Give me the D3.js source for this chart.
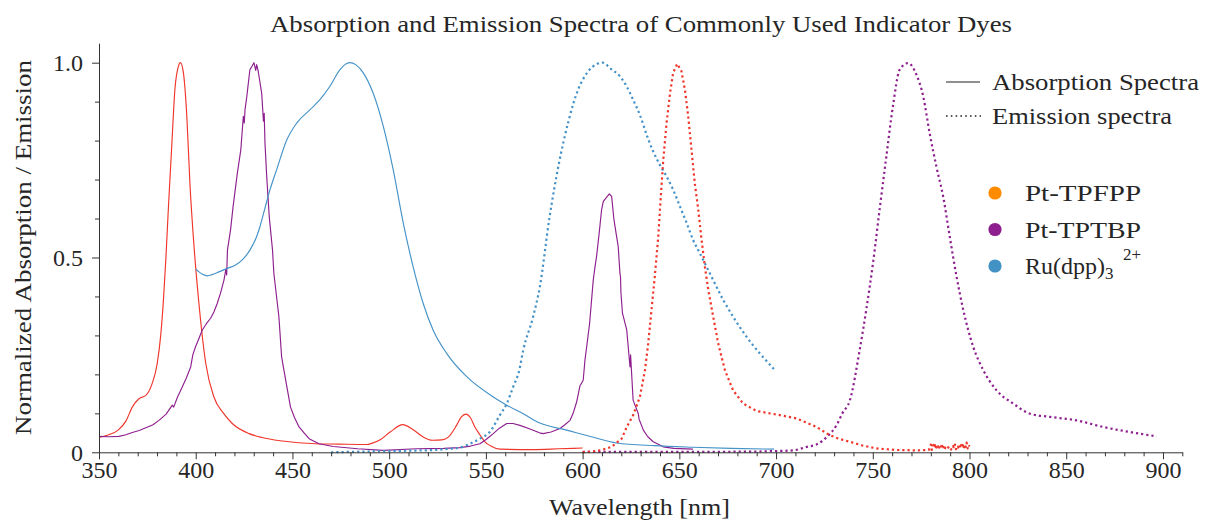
<!DOCTYPE html>
<html><head><meta charset="utf-8">
<script src="https://cdn.jsdelivr.net/npm/d3@7/dist/d3.min.js"></script>
<style>
body{margin:0;background:#fff}
svg{display:block}
text{font-family:"Liberation Serif",serif;fill:#262626}
</style>
</head><body>
<svg id="c" width="1205" height="523"></svg>
<script>
// ---------- DATA ----------
const titleText = "Absorption and Emission Spectra of Commonly Used Indicator Dyes";
const xLabelText = "Wavelength [nm]";
const yLabelText = "Normalized Absorption / Emission";
const xMajorTicks = [350,400,450,500,550,600,650,700,750,800,850,900];
const yMajorTicks = [0,0.5,1.0];
const yTickLabels = ["0","0.5","1.0"];
const dyeNames = ["Pt-TPFPP","Pt-TPTBP","Ru(dpp)"];
const dyeColors = ["#ff8c00","#8e1f8f","#4292c6"];
const styleNames = ["Absorption Spectra","Emission spectra"];

// Pt-TPFPP absorption [nm, value]
const ptfAbs = [[350,0.038],[355,0.045],[359.9,0.057],[363.9,0.08],[367.2,0.116],[370.8,0.138],[374.2,0.146],[377.5,0.177],[380.1,0.228],[381.9,0.30],[383.3,0.39],[384.6,0.50],[386,0.64],[387.5,0.776],[389.3,0.935],[391,0.99],[392.1,1.0],[393.6,0.975],[395.4,0.862],[397,0.69],[399.1,0.53],[401.7,0.38],[405.2,0.228],[409.4,0.142],[414.4,0.1],[418.9,0.074],[427.6,0.048],[434.2,0.038],[444.8,0.029],[461.9,0.022],[473.8,0.021],[488.4,0.02],[491,0.023],[495.6,0.033],[500.5,0.052],[507,0.071],[512.4,0.058],[517.4,0.04],[522.3,0.031],[527.3,0.032],[530.6,0.039],[534.8,0.069],[537.2,0.09],[539.7,0.098],[542.1,0.088],[544.3,0.065],[546.9,0.045],[549.5,0.027],[553,0.015],[557.2,0.008],[574.4,0.007],[587.7,0.009],[600,0.011]];
// Pt-TPFPP emission
const ptfEm = [[600,0.0],[605,0.002],[610,0.006],[615,0.014],[620.2,0.035],[622.8,0.065],[626.1,0.095],[629.6,0.142],[632.2,0.21],[633.9,0.279],[635.6,0.365],[637.3,0.451],[639.1,0.553],[640.3,0.648],[641.7,0.751],[643.4,0.845],[645.2,0.922],[646.8,0.974],[648.9,0.997],[651.1,0.978],[652.9,0.93],[654.6,0.862],[656.3,0.776],[658,0.69],[659.8,0.622],[661.5,0.545],[663.2,0.476],[665,0.416],[667.5,0.348],[670.1,0.279],[673.6,0.21],[677.8,0.159],[683,0.125],[689.9,0.106],[700.2,0.097],[710.6,0.087],[720.9,0.065],[727.4,0.045],[732.3,0.035],[738.2,0.027],[744.2,0.018],[751.9,0.01],[762,0.006],[772.6,0.005],[779,0.006],
 [780,0.02],[780.5,0.006],[781,0.018],[781.5,0.012],[782,0.024],[782.5,0.008],[783,0.015],[783.5,0.02],[784,0.007],[784.5,0.016],[785,0.011],[785.5,0.022],[786,0.009],[786.5,0.014],[787,0.006],[787.5,0.012],[788,0.01],[788.5,0.008],[789,0.013],[789.5,0.009],[790,0.012],[790.5,0.007],[791,0.011],[791.5,0.016],[792,0.01],[792.5,0.02],[793,0.008],[793.5,0.015],[794,0.012],[794.5,0.021],[795,0.009],[795.5,0.018],[796,0.013],[796.5,0.024],[797,0.008],[797.5,0.02],[798,0.014],[798.5,0.025],[799,0.01],[799.5,0.019],[800,0.015]];
// Pt-TPTBP absorption
const pttAbs = [[350,0.041],[355,0.04],[360.3,0.041],[363.9,0.045],[367.2,0.051],[370.8,0.056],[374.2,0.063],[377.7,0.07],[381,0.082],[384.7,0.098],[387.9,0.121],[388.6,0.116],[390.6,0.142],[393.1,0.168],[395.1,0.19],[397.4,0.219],[398.5,0.25],[399.9,0.271],[401.5,0.29],[403.4,0.314],[405.5,0.33],[407.7,0.344],[409.4,0.36],[411.1,0.382],[412.9,0.41],[414.6,0.442],[415.6,0.47],[416,0.455],[416.4,0.519],[418,0.571],[419.3,0.63],[421.5,0.716],[423.3,0.776],[424.6,0.862],[425.1,0.845],[425.5,0.88],[426.4,0.913],[428,0.982],[429,0.99],[430.1,1.0],[431,0.98],[431.5,0.995],[432.3,0.978],[434.1,0.922],[435,0.85],[435.4,0.87],[435.8,0.794],[436.7,0.708],[438,0.605],[439.7,0.519],[440.4,0.459],[443,0.348],[444.4,0.245],[446.5,0.185],[449,0.116],[451,0.09],[453.4,0.065],[456,0.05],[458.6,0.035],[463.7,0.022],[471.1,0.015],[483.7,0.009],[497,0.005],[514.2,0.009],[528.3,0.01],[536.6,0.012],[542.1,0.016],[546.9,0.022],[550.1,0.033],[553.8,0.048],[557,0.062],[560.8,0.074],[564,0.074],[567.6,0.069],[572.8,0.06],[577.7,0.05],[579.5,0.048],[583.7,0.052],[588.3,0.061],[590.7,0.07],[593.5,0.082],[595.1,0.1],[596.9,0.129],[598.6,0.17],[600.3,0.185],[601.2,0.236],[602.1,0.271],[603.6,0.33],[605.5,0.442],[606.4,0.476],[607.2,0.502],[608.5,0.56],[609.8,0.622],[610.7,0.644],[613.8,0.663],[615,0.657],[616.2,0.597],[617.6,0.553],[618.4,0.528],[619.3,0.459],[619.6,0.45],[619.8,0.41],[620.6,0.357],[622.8,0.314],[624.5,0.219],[624.8,0.25],[626.1,0.134],[628.8,0.099],[629.2,0.085],[631.4,0.057],[633.7,0.04],[636.5,0.027],[641.7,0.014],[647.1,0.01],[657,0.008]];
// Pt-TPTBP emission
const pttEm = [[600,0.001],[650,0.001],[690,0.002],[698.6,0.003],[708.9,0.005],[715.8,0.014],[720.9,0.02],[726.4,0.04],[731.3,0.07],[734.3,0.1],[738.2,0.134],[743.2,0.262],[746.6,0.365],[750.1,0.485],[753.5,0.622],[757,0.759],[760.4,0.888],[763.9,0.982],[768.2,0.999],[772.6,0.969],[776.1,0.913],[779.4,0.819],[782.9,0.733],[786.4,0.656],[789.8,0.553],[793.3,0.451],[796.8,0.365],[801.9,0.271],[807.1,0.211],[814,0.159],[822.6,0.125],[831.3,0.099],[841.5,0.091],[855.3,0.082],[869.1,0.065],[882.9,0.052],[896.7,0.041]];
// Ru(dpp)3 2+ absorption
const ruAbs = [[400,0.47],[401.7,0.463],[403.5,0.457],[406,0.453],[408.4,0.456],[412,0.463],[416.4,0.472],[420.6,0.481],[424.1,0.494],[428,0.519],[431.2,0.55],[433.2,0.579],[435.7,0.625],[438.4,0.674],[441.8,0.725],[447.1,0.802],[452.2,0.845],[459,0.879],[464.2,0.905],[469.3,0.939],[474.6,0.982],[477.8,0.997],[479.7,1.0],[482.7,0.995],[486.6,0.974],[491.7,0.922],[497,0.836],[502.1,0.725],[507.3,0.588],[512.4,0.476],[517.6,0.382],[522.7,0.314],[529.7,0.254],[540.1,0.194],[553.8,0.142],[560.8,0.121],[569.3,0.099],[577.9,0.075],[591.7,0.057],[604.5,0.04],[617.6,0.024],[637.2,0.017],[657,0.013],[676.8,0.01],[699,0.008]];
// Ru(dpp)3 2+ emission
const ruEm = [[470,0.0],[488.7,0.002],[508.5,0.004],[523.3,0.006],[531.3,0.009],[536.6,0.012],[541.7,0.022],[546.9,0.035],[552,0.052],[557.2,0.095],[560.8,0.125],[564.1,0.168],[567.2,0.21],[569.3,0.262],[574.4,0.348],[577.9,0.425],[582.8,0.6],[587.7,0.74],[592.7,0.85],[597.6,0.93],[602.5,0.975],[607.5,0.997],[610.5,1.0],[614.4,0.985],[619.3,0.965],[622.8,0.939],[626.1,0.905],[629.6,0.866],[633.1,0.815],[636.5,0.772],[639.9,0.738],[643.4,0.708],[646.8,0.674],[650.3,0.631],[653.8,0.588],[657.1,0.545],[660.6,0.511],[664.1,0.476],[667.5,0.442],[672.7,0.391],[677.8,0.348],[684.8,0.296],[691.6,0.254],[699,0.213]];

// ---------- CHART ----------
const RED = "#f0352a", PURPLE = "#8e1f8f", BLUE = "#4592c8";
const FONT = '"Liberation Serif",serif';
const svg = d3.select("#c");
const x = d3.scaleLinear().domain([350,910]).range([99,1182.3]);
const y = d3.scaleLinear().domain([0,1.05]).range([452.3,43.2]);

const series = [
  {data: ptfAbs, color: RED, dotted:false, curve:d3.curveMonotoneX},
  {data: pttAbs, color: PURPLE, dotted:false, curve:d3.curveLinear},
  {data: ruAbs, color: BLUE, dotted:false, curve:d3.curveMonotoneX},
  {data: ruEm, color: BLUE, dotted:true, curve:d3.curveMonotoneX},
  {data: pttEm, color: PURPLE, dotted:true, curve:d3.curveMonotoneX},
  {data: ptfEm, color: RED, dotted:true, curve:d3.curveLinear}
];
const gLines = svg.append("g");
series.forEach(s => {
  const ln = d3.line().x(d=>x(d[0])).y(d=>y(d[1])).curve(s.curve);
  gLines.append("path").attr("d", ln(s.data)).attr("fill","none")
    .attr("stroke", s.color)
    .attr("stroke-width", s.dotted ? 2.2 : 1.15)
    .attr("stroke-dasharray", s.dotted ? "2.2 3" : null)
    .attr("stroke-linejoin","round");
});

// axes
const axisColor = "#333";
const xMinor = d3.range(350, 911, 10).filter(v => v % 50 !== 0);
const yMinor = d3.range(1, 11).map(v => v/10).filter(v => Math.abs(v-0.5) > 1e-9 && Math.abs(v-1) > 1e-9);

const gxMinor = svg.append("g").attr("transform",`translate(0,${y(0)})`).style("color",axisColor)
  .call(d3.axisBottom(x).tickValues(xMinor).tickSize(4).tickSizeOuter(0).tickFormat(""));
gxMinor.select(".domain").remove();
const gx = svg.append("g").attr("transform",`translate(0,${y(0)})`).style("color",axisColor)
  .call(d3.axisBottom(x).tickValues(xMajorTicks).tickSize(7).tickSizeOuter(0).tickFormat(d3.format("d")));
gx.selectAll("text").attr("y",26).attr("dy",0).style("font-family",FONT).style("font-size","24px").style("fill","#262626");

const gyMinor = svg.append("g").attr("transform",`translate(${x(350)},0)`).style("color",axisColor)
  .call(d3.axisLeft(y).tickValues(yMinor).tickSize(4).tickSizeOuter(0).tickFormat(""));
gyMinor.select(".domain").remove();
const gy = svg.append("g").attr("transform",`translate(${x(350)},0)`).style("color",axisColor)
  .call(d3.axisLeft(y).tickValues(yMajorTicks).tickSize(7).tickSizeOuter(0).tickFormat((d,i)=>yTickLabels[i]));
gy.selectAll("text").attr("x",-16).attr("dy","0.33em").style("font-family",FONT).style("font-size","24px").style("fill","#262626");

// title & labels
svg.append("text").attr("x",641).attr("y",32).attr("text-anchor","middle")
  .attr("font-size",24).attr("textLength",742).attr("lengthAdjust","spacingAndGlyphs").text(titleText);
svg.append("text").attr("x",639.5).attr("y",515).attr("text-anchor","middle")
  .attr("font-size",24).attr("textLength",181).attr("lengthAdjust","spacingAndGlyphs").text(xLabelText);
svg.append("text").attr("transform","translate(31,247.5) rotate(-90)").attr("text-anchor","middle")
  .attr("font-size",24).attr("textLength",375).attr("lengthAdjust","spacingAndGlyphs").text(yLabelText);

// style legend
const lg = svg.append("g");
lg.append("line").attr("x1",946).attr("x2",980).attr("y1",82).attr("y2",82).attr("stroke","#222").attr("stroke-width",1.1);
lg.append("line").attr("x1",946).attr("x2",981).attr("y1",116).attr("y2",116).attr("stroke","#222").attr("stroke-width",1.6).attr("stroke-dasharray","1.6 3.2");
lg.append("text").attr("x",992).attr("y",90).attr("font-size",24).attr("textLength",207).attr("lengthAdjust","spacingAndGlyphs").text(styleNames[0]);
lg.append("text").attr("x",992).attr("y",124).attr("font-size",24).attr("textLength",180).attr("lengthAdjust","spacingAndGlyphs").text(styleNames[1]);

// dye legend
const rowsY = [193,229.5,266];
dyeNames.forEach((n,i) => {
  lg.append("circle").attr("cx",995).attr("cy",rowsY[i]).attr("r",6.6).attr("fill",dyeColors[i]);
  const t = lg.append("text").attr("x",1025).attr("y",rowsY[i]+8).attr("font-size",24);
  if (i < 2) {
    t.attr("textLength",116).attr("lengthAdjust","spacingAndGlyphs").text(n);
  } else {
    t.append("tspan").text(n);
    t.append("tspan").attr("font-size",17).attr("dy",5).text("3");
    t.append("tspan").attr("font-size",17).attr("x",1123).attr("dy",-19).text("2+");
  }
});
</script>
</body></html>
